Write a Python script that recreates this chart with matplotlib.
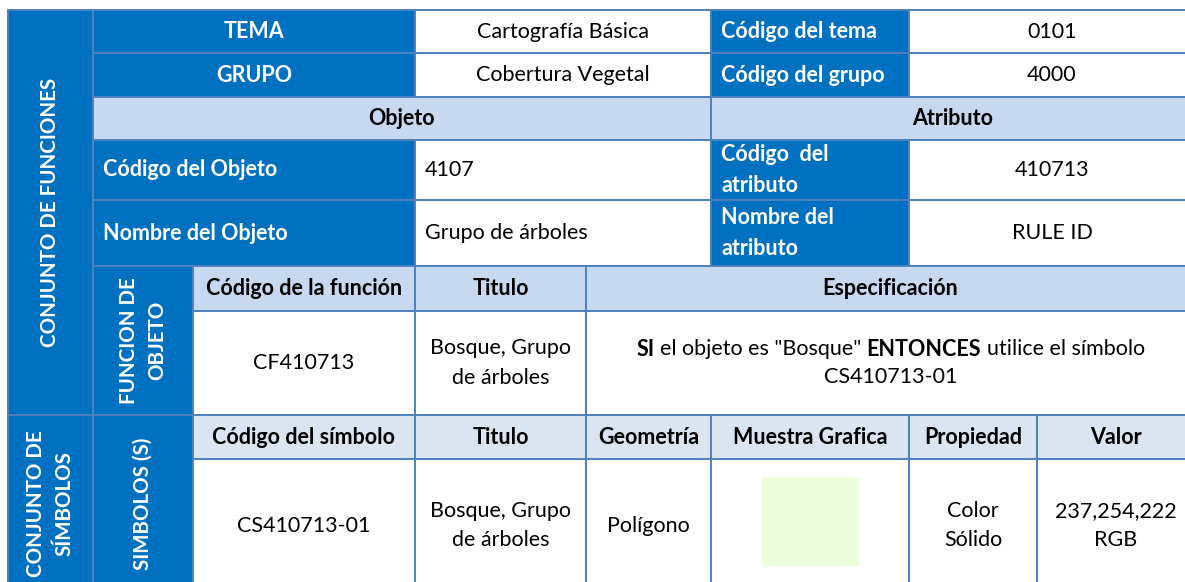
import matplotlib
matplotlib.use("Agg")
import matplotlib.pyplot as plt
from matplotlib.patches import Rectangle

plt.rcParams['font.family'] = ['Lato', 'DejaVu Sans']

# ---------------- data ----------------
tema_label, tema_value = "TEMA", "Cartografía Básica"
grupo_label, grupo_value = "GRUPO", "Cobertura Vegetal"
cod_tema_label, cod_tema_value = "Código del tema", "0101"
cod_grupo_label, cod_grupo_value = "Código del grupo", "4000"
section_headers = ["Objeto", "Atributo"]
objeto_labels = ["Código del Objeto", "Nombre del Objeto"]
objeto_values = ["4107", "Grupo de árboles"]
atributo_labels = ["Código  del\natributo", "Nombre del\natributo"]
atributo_values = ["410713", "RULE ID"]
side_labels = ["CONJUNTO DE FUNCIONES", "FUNCION DE\nOBJETO", "CONJUNTO DE\nSÍMBOLOS", "SIMBOLOS (S)"]
funcion_headers = ["Código de la función", "Titulo", "Especificación"]
funcion_code = "CF410713"
funcion_title = "Bosque, Grupo\nde árboles"
spec_line1 = [("SI", True), ("el objeto es \"Bosque\"", False), ("ENTONCES", True), ("utilice el símbolo", False)]
spec_line2 = "CS410713-01"
simbolo_headers = ["Código del símbolo", "Titulo", "Geometría", "Muestra Grafica", "Propiedad", "Valor"]
simbolo_values = ["CS410713-01", "Bosque, Grupo\nde árboles", "Polígono", None, "Color\nSólido", "237,254,222\nRGB"]
swatch_rgb = (237, 254, 222)

# ---------------- style / layout ----------------
W, H = 1185, 582
DARK = "#0070C0"
LIGHT = "#C6D9F1"
LIGHTER = "#DBE5F1"
WHITE = "#FFFFFF"
BORDER = "#4F81BD"
FS = 15.5
FS_SIDE = 14.8
LS = 1.6

X = [8, 93, 193, 415, 586, 711, 909, 1037, 1195]
Y = [10, 53, 97, 140, 200, 266, 311, 415, 459, 592]

fig = plt.figure(figsize=(W / 100, H / 100), dpi=100)
ax = fig.add_axes([0, 0, 1, 1])
ax.set_xlim(0, W)
ax.set_ylim(H, 0)
ax.axis("off")


def cell(x0, x1, y0, y1, fill, text=None, color="black", bold=False,
         align="center", rot=0, pad=10, fs=FS, ls=LS):
    ax.add_patch(Rectangle((x0, y0), x1 - x0, y1 - y0, facecolor=fill,
                           edgecolor=BORDER, lw=1.4, zorder=1))
    if text is None:
        return
    cy = (y0 + y1) / 2
    if align == "left":
        tx, ha = x0 + pad, "left"
    else:
        tx, ha = (x0 + x1) / 2, "center"
    ax.text(tx, cy, text, ha=ha, va="center", color=color, fontsize=fs,
            fontweight="bold" if bold else "normal", rotation=rot,
            multialignment="left" if align == "left" else "center",
            linespacing=ls, zorder=3)


# side labels
cell(X[0], X[1], Y[0], Y[7], DARK, side_labels[0], "white", True, rot=90, fs=FS_SIDE)
cell(X[1], X[2], Y[5], Y[7], DARK, side_labels[1], "white", True, rot=90, fs=FS_SIDE, ls=1.5)
cell(X[0], X[1], Y[7], Y[9], DARK, side_labels[2], "white", True, rot=90, fs=FS_SIDE, ls=1.5)
cell(X[1], X[2], Y[7], Y[9], DARK, side_labels[3], "white", True, rot=90, fs=FS_SIDE)

# tema / grupo rows
for r, (lab, val, clab, cval) in enumerate([
        (tema_label, tema_value, cod_tema_label, cod_tema_value),
        (grupo_label, grupo_value, cod_grupo_label, cod_grupo_value)]):
    y0, y1 = Y[r], Y[r + 1]
    cell(X[1], X[3], y0, y1, DARK, lab, "white", True)
    cell(X[3], X[5], y0, y1, WHITE, val)
    cell(X[5], X[6], y0, y1, DARK, clab, "white", True, align="left")
    cell(X[6], X[8], y0, y1, WHITE, cval)

# objeto / atributo header
cell(X[1], X[5], Y[2], Y[3], LIGHT, section_headers[0], bold=True)
cell(X[5], X[8], Y[2], Y[3], LIGHT, section_headers[1], bold=True)

# objeto / atributo rows
for i in range(2):
    y0, y1 = Y[3 + i], Y[4 + i]
    cell(X[1], X[3], y0, y1, DARK, objeto_labels[i], "white", True, align="left")
    cell(X[3], X[5], y0, y1, WHITE, objeto_values[i], align="left")
    cell(X[5], X[6], y0, y1, DARK, atributo_labels[i], "white", True, align="left")
    cell(X[6], X[8], y0, y1, WHITE, atributo_values[i])

# funcion rows
fx = [X[2], X[3], X[4], X[8]]
for j, h in enumerate(funcion_headers):
    cell(fx[j], fx[j + 1], Y[5], Y[6], LIGHT, h, bold=True)
cell(fx[0], fx[1], Y[6], Y[7], WHITE, funcion_code)
cell(fx[1], fx[2], Y[6], Y[7], WHITE, funcion_title)
cell(fx[2], fx[3], Y[6], Y[7], WHITE)

# rich specification text
renderer = fig.canvas.get_renderer()


def width(s, bold):
    t = ax.text(0, 0, s, fontsize=FS, fontweight="bold" if bold else "normal")
    w = t.get_window_extent(renderer).width
    t.remove()
    return w


space = width("a a", False) - width("aa", False)
widths = [width(s, b) for s, b in spec_line1]
total = sum(widths) + space * (len(widths) - 1)
cx = (fx[2] + fx[3]) / 2
cy = (Y[6] + Y[7]) / 2
line_dy = 28
x = cx - total / 2
for (s, b), w in zip(spec_line1, widths):
    ax.text(x, cy - line_dy / 2, s, ha="left", va="center", fontsize=FS,
            fontweight="bold" if b else "normal", zorder=3)
    x += w + space
ax.text(cx, cy + line_dy / 2, spec_line2, ha="center", va="center",
        fontsize=FS, zorder=3)

# simbolo rows
sx = [X[2], X[3], X[4], X[5], X[6], X[7], X[8]]
for j, h in enumerate(simbolo_headers):
    cell(sx[j], sx[j + 1], Y[7], Y[8], LIGHTER, h, bold=True)
for j, v in enumerate(simbolo_values):
    cell(sx[j], sx[j + 1], Y[8], Y[9], WHITE, v)

# swatch
sw_w, sw_h = 97, 89
scx = (sx[3] + sx[4]) / 2
scy = 521.5
ax.add_patch(Rectangle((scx - sw_w / 2, scy - sw_h / 2), sw_w, sw_h,
                       facecolor=tuple(c / 255 for c in swatch_rgb),
                       edgecolor="none", zorder=2))

fig.savefig("out.png", dpi=100)
